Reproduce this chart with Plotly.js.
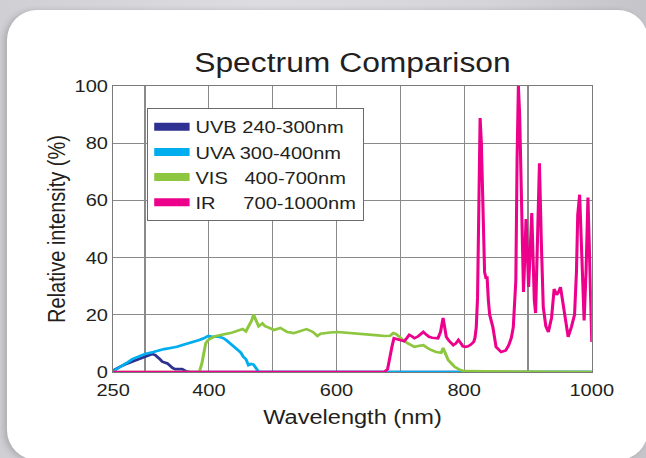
<!DOCTYPE html>
<html>
<head>
<meta charset="utf-8">
<script src="https://cdn.plot.ly/plotly-3.0.1.min.js"></script>
<style>
  html, body { margin:0; padding:0; width:646px; height:458px; overflow:hidden;
    background: linear-gradient(90deg, #cfcfd4 0%, #dcdce1 40%, #d4d4d9 75%, #c4c4c9 100%); }
  #card { position:absolute; left:7px; top:10px; width:641px; height:450px; background:#ffffff;
    border-radius:30px; box-shadow:-3px 1px 6px rgba(0,0,0,0.18); }
  #chart { position:absolute; left:0; top:0; width:548px; height:458px;
    transform: scaleX(1.17883); transform-origin: 0 0; }
</style>
</head>
<body>
<div id="card"></div>
<div id="chart"></div>
<script>
// ---- data ----
const seriesNames = ["UVB 240-300nm", "UVA 300-400nm", "VIS\u00a0\u00a0\u00a0400-700nm", "IR\u00a0\u00a0\u00a0\u00a0\u00a0700-1000nm"];
const seriesColors = ["#2e3192", "#00aeef", "#8dc63f", "#ec008c"];

const uvbX = [250,255,262,270,280,290,300,306,311,316,320,324,327,331,335,339,343,347,352,358,364,370,1000];
const uvbY = [0.5,1.2,2,2.8,3.6,4.4,5.2,5.8,6.3,5.9,5.2,4.3,3.6,3.3,3.0,2.2,1.4,1.0,1.1,1.0,0.3,0,0];

const uvaX = [250,260,270,280,292,300,313,320,330,340,350,360,370,376,385,392,399,405,412,418,423,428,433,439,445,450,454,458,462,466,470,474,478,485,1000];
const uvaY = [0.3,1.5,3,4.5,5.6,6.3,7,7.5,8,8.4,8.8,9.5,10.1,10.5,11.2,11.8,12.6,12.3,12.4,12.2,11.8,11,10,8.8,7.5,6.8,5.3,4.5,2.4,2.8,2.6,1.2,0,0,0];

const visX = [250,385,389,392,395,398,403,410,418,426,434,440,446,453,458,463,467,470,474,478,484,488,492,502,512,523,533,544,553,563,570,575,580,590,602,615,627,640,654,665,675,684,689,693,697,704,712,718,722,730,736,742,748,756,764,767,770,775,780,785,792,800,1000];
const visY = [0,0,3,7,10,11,11.8,12.5,13,13.3,13.6,14,14.5,15,14.2,16,18,20,18,16,17,16,15.7,14.7,15.4,14,13.6,14.5,15,14,12.6,13.4,13.6,13.8,14,13.8,13.6,13.4,13,12.8,12.6,12.7,13.6,13.3,12.6,11.2,10,9.2,8.8,9.2,9.4,8.5,7.7,7,6.7,8.4,7,4.2,3,1.8,0.9,0.3,0];

const irX = [250,675,680,683,687,690,694,698,702,706,710,714,718,722,728,736,741,745,750,755,759,763,767,770,772,776,780,783,787,791,795,798,802,806,810,815,817,819,821,823,825,827,830,832,834,836,838,840,845,850,858,865,870,874,877,879,881,883,885,887,889,891,893,895,897,899,901,904,906,908,910,912,915,918,921,924,928,932,937,941,945,948,951,954,957,960,963,968,973,976,978,981,984,986,988,991,994,996,998,1000];
const irY = [0,0,1,4.9,9,11.8,11.5,11.2,11,10.8,11.8,13,12.5,11.8,12.5,14,13,12.3,12,11.8,11.8,14,18.9,15,12.3,11,10,9.4,10,11.2,10,9,8.8,9,9.5,10.5,12,15.7,26,55,88.8,80,52,35,33,33,25,20,15.7,8.8,7,7.5,9.4,12,15.7,22,32,75,100,90,67,40,28,40,53.5,42,29.7,45,55.6,40,25,20.6,45,73,45,22.7,16,14,19,29,27,28,29.7,25,20.6,15,12.3,15.7,20,35,55,62,40,25,18,35,61,45,25,10.5];

// x grid every 100 nm from 300; labels only at 250/400/600/800/1000
const xTickVals = [250,300,400,500,600,700,800,900,1000];
const xTickText = ["250","","400","","600","","800","","1000"];
const yTickVals = [0,20,40,60,80,100];

const chartTitle = "Spectrum Comparison";
const xTitle = "Wavelength (nm)";
const yTitle = "Relative intensity (%)";

// ---- traces ----
const xs = [uvbX, uvaX, visX, irX];
const ys = [uvbY, uvaY, visY, irY];
const traces = [];
for (let i = 0; i < 4; i++) {
  traces.push({x: xs[i], y: ys[i], type: 'scatter', mode: 'lines', showlegend: false,
    line: {color: seriesColors[i], width: 2.6}, hoverinfo: 'skip'});
}
for (let i = 0; i < 4; i++) {
  traces.push({x: [null], y: [null], type: 'scatter', mode: 'lines', name: seriesNames[i],
    legendgroup: 'g' + i, showlegend: true, line: {color: seriesColors[i], width: 8}});
}

const txt = '#231f20';
const gridC = '#8a8a8a';
const layout = {
  width: 548, height: 458,
  margin: {l: 96, r: 46, t: 86, b: 86},
  paper_bgcolor: 'rgba(0,0,0,0)', plot_bgcolor: 'rgba(0,0,0,0)',
  font: {family: 'Liberation Sans, Arial, sans-serif', color: txt, size: 17},
  title: {text: chartTitle, font: {size: 27, color: txt}, x: 0.5, xref: 'paper', xanchor: 'center',
    y: 1 - 63/458, yref: 'container', yanchor: 'middle'},
  xaxis: {range: [250, 1000], tickmode: 'array', tickvals: xTickVals, ticktext: xTickText, ticks: '', ticklen: 0,
    ticklabelstandoff: 3,
    showgrid: true, gridcolor: gridC, gridwidth: 1, zeroline: false,
    showline: true, mirror: true, linecolor: '#7a7a7a', linewidth: 1,
    tickfont: {size: 17, color: txt},
    title: {text: xTitle, font: {size: 20, color: txt}, standoff: 10}},
  yaxis: {range: [0, 100], tickmode: 'array', tickvals: yTickVals, ticks: '', ticklen: 0,
    showgrid: true, gridcolor: gridC, gridwidth: 1, zeroline: false,
    showline: true, mirror: true, linecolor: '#7a7a7a', linewidth: 1,
    tickfont: {size: 17, color: txt},
    title: {text: yTitle, font: {size: 20, color: txt}, standoff: 2}},
  legend: {x: 0.071, y: 0.922, xanchor: 'left', yanchor: 'top', bgcolor: '#ffffff',
    bordercolor: '#6a6a6a', borderwidth: 1, font: {size: 17, color: txt},
    itemwidth: 30, tracegroupgap: 1, traceorder: 'normal'},
  showlegend: true
};

Plotly.newPlot('chart', traces, layout, {displayModeBar: false, staticPlot: true});
</script>
</body>
</html>
